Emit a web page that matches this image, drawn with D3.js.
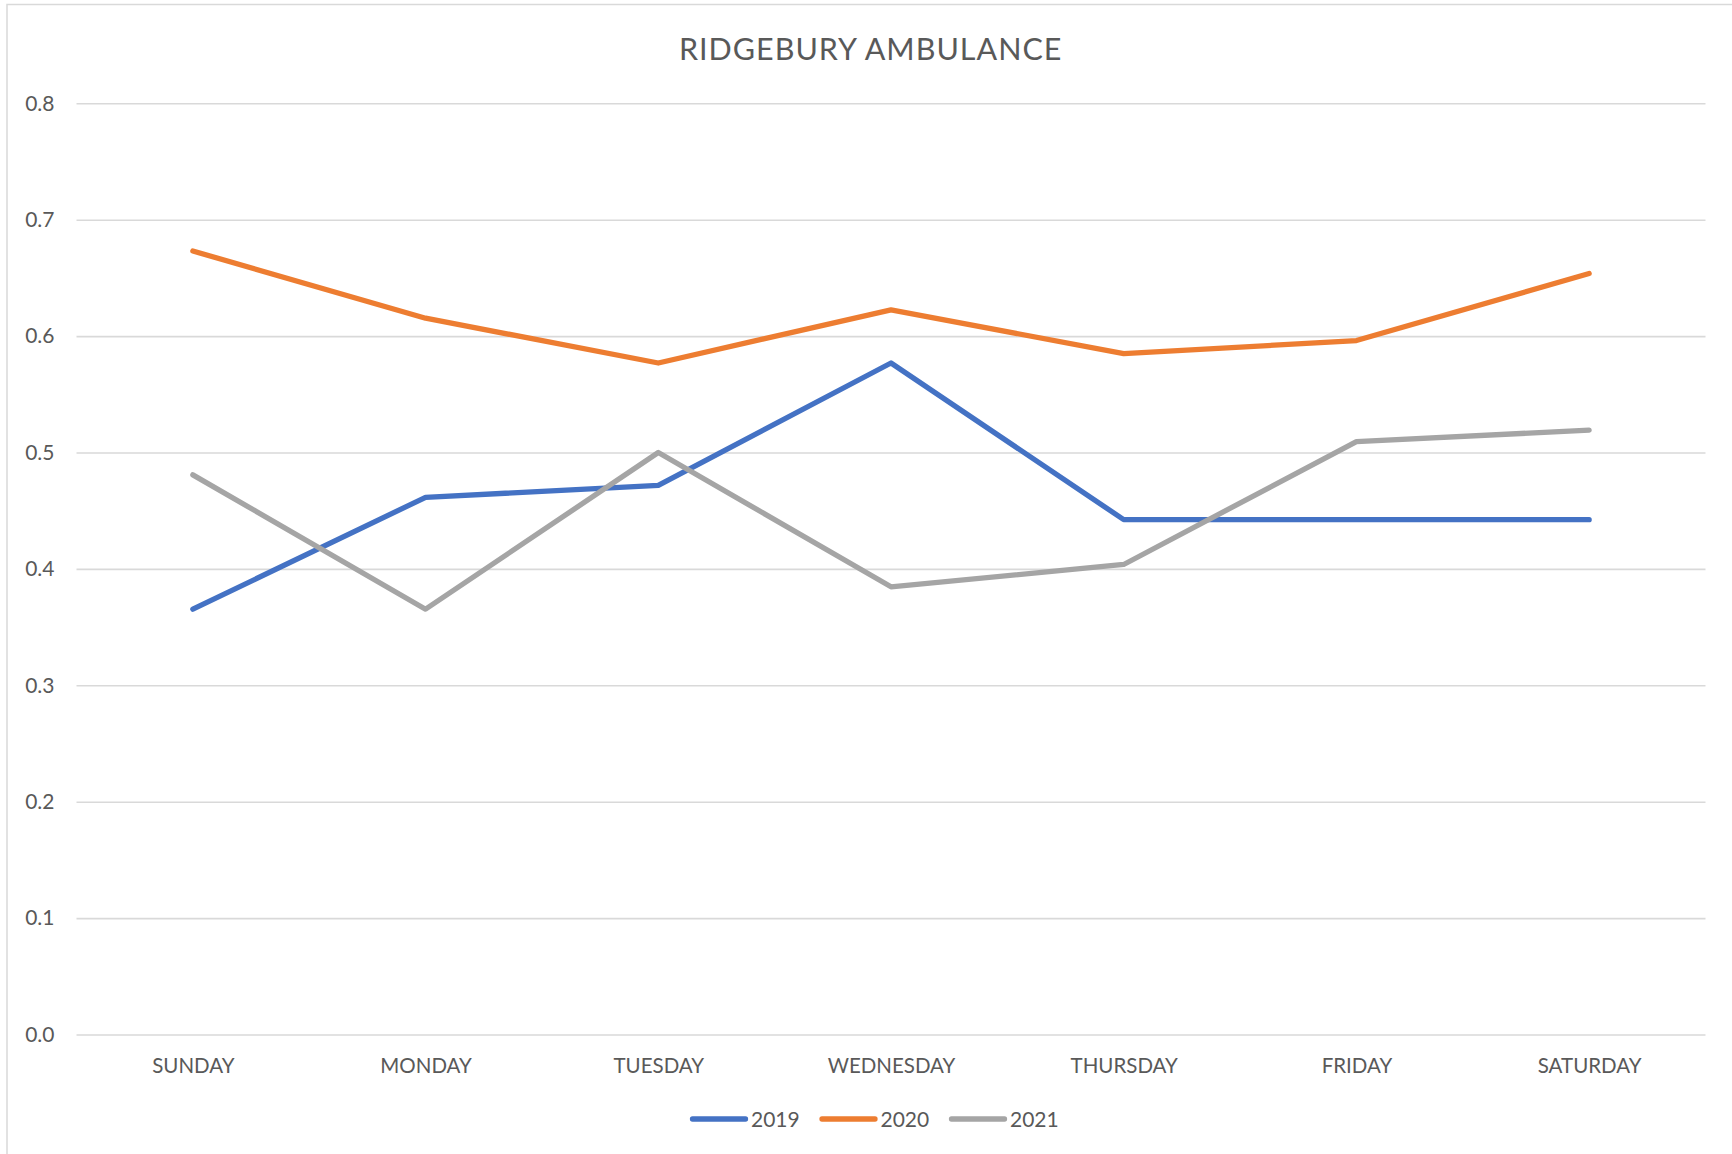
<!DOCTYPE html>
<html lang="en">
<head>
  <meta charset="UTF-8">
  <title>Ridgebury Ambulance</title>
  <script src="https://d3js.org/d3.v7.min.js"></script>
  <style>
    body { margin: 0; background: #fff; }
    text { font-family: Lato, "Open Sans", sans-serif; fill: #595959; }
  </style>
</head>
<body>
<div id="chart"></div>
<script>
// data
var days = ["SUNDAY", "MONDAY", "TUESDAY", "WEDNESDAY", "THURSDAY", "FRIDAY", "SATURDAY"];
var years = ["2019", "2020", "2021"];
var values2019 = [0.3654, 0.4615, 0.4717, 0.5769, 0.4423, 0.4423, 0.4423];
var values2020 = [0.6731, 0.6154, 0.5769, 0.6226, 0.5849, 0.5962, 0.6538];
var values2021 = [0.4808, 0.3654, 0.5000, 0.3846, 0.4038, 0.5094, 0.5192];
var yTicks = [0, 0.1, 0.2, 0.3, 0.4, 0.5, 0.6, 0.7, 0.8];
var colors = ["#4472C4", "#ED7D31", "#A5A5A5"];

var series = [values2019, values2020, values2021];

var W = 1732, H = 1154;
var plot = {left: 76.5, right: 1705.5, top: 103.3, bottom: 1034.5};

var svg = d3.select("#chart")
  .append("svg")
    .attr("width", W)
    .attr("height", H);

// outer chart border (only top and left visible in the crop)
svg.append("path")
  .attr("d", "M7," + H + "V4.5H" + W)
  .attr("fill", "none")
  .attr("stroke", "#D9D9D9")
  .attr("stroke-width", 1.5);

// title
svg.append("text")
  .attr("x", 870.7)
  .attr("y", 60)
  .attr("text-anchor", "middle")
  .style("font-size", "30.5px")
  .style("letter-spacing", "1px")
  .text("RIDGEBURY AMBULANCE");

var x = d3.scalePoint()
  .domain(days)
  .range([plot.left, plot.right])
  .padding(0.5);

var y = d3.scaleLinear()
  .domain([0, 0.8])
  .range([plot.bottom, plot.top]);

// y axis + gridlines
var yAxis = svg.append("g")
  .attr("transform", "translate(" + plot.left + ",0)")
  .call(d3.axisLeft(y)
    .tickValues(yTicks)
    .tickFormat(d3.format(".1f"))
    .tickSize(-(plot.right - plot.left))
    .tickPadding(22));
yAxis.select(".domain").remove();
yAxis.selectAll("line")
  .attr("stroke", "#D9D9D9")
  .attr("stroke-width", 1.6);
yAxis.selectAll("text")
  .attr("fill", "#595959")
  .style("font-family", "Lato, sans-serif")
  .style("font-size", "21px");

// x axis labels
var xAxis = svg.append("g")
  .attr("transform", "translate(0," + plot.bottom + ")")
  .call(d3.axisBottom(x).tickSize(0).tickPadding(24));
xAxis.select(".domain").remove();
xAxis.selectAll("text")
  .attr("fill", "#595959")
  .style("font-family", "Lato, sans-serif")
  .style("font-size", "20.5px");

// lines
var line = d3.line()
  .x(function(d, i) { return x(days[i]); })
  .y(function(d) { return y(d); });

svg.selectAll(".series")
  .data(series)
  .enter()
  .append("path")
    .attr("class", "series")
    .attr("d", line)
    .attr("fill", "none")
    .attr("stroke", function(d, i) { return colors[i]; })
    .attr("stroke-width", 5.3)
    .attr("stroke-linecap", "round")
    .attr("stroke-linejoin", "round");

// legend
var legend = svg.append("g")
  .attr("transform", "translate(691,1119)");

var item = legend.selectAll(".item")
  .data(years)
  .enter()
  .append("g")
    .attr("class", "item")
    .attr("transform", function(d, i) { return "translate(" + (i * 129.5) + ",0)"; });

item.append("line")
  .attr("x1", 1.5)
  .attr("x2", 54.5)
  .attr("stroke", function(d, i) { return colors[i]; })
  .attr("stroke-width", 5.3)
  .attr("stroke-linecap", "round");

item.append("text")
  .attr("x", 60)
  .attr("y", 7.5)
  .style("font-size", "21px")
  .text(function(d) { return d; });
</script>
</body>
</html>
